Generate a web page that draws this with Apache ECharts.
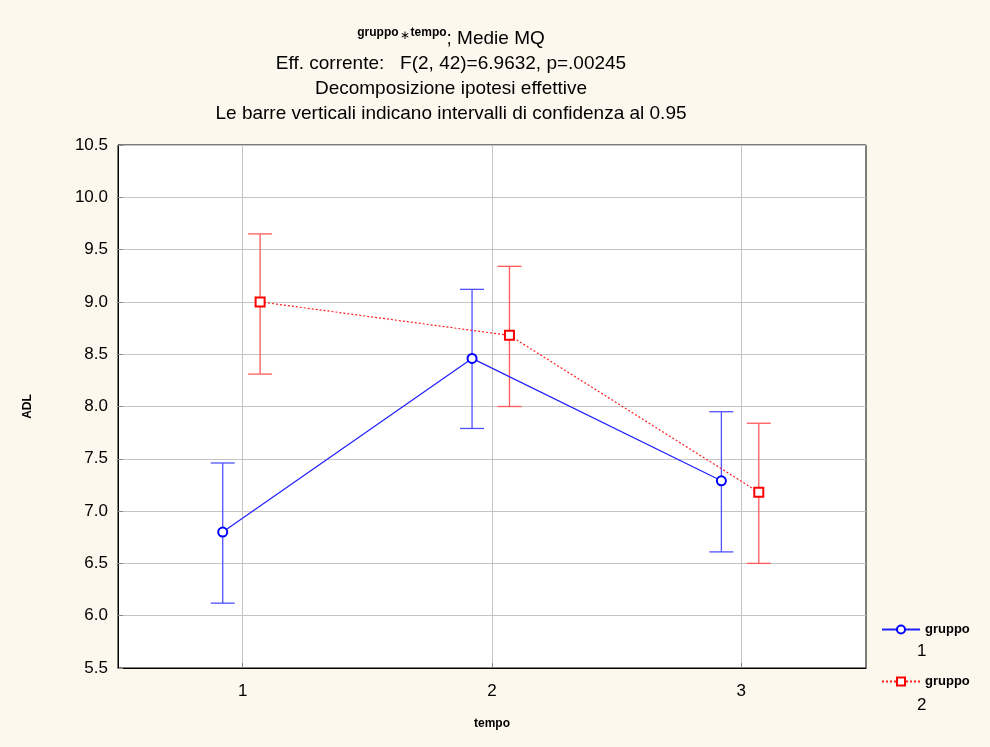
<!DOCTYPE html>
<html><head><meta charset="utf-8">
<script src="https://cdn.jsdelivr.net/npm/echarts@6/dist/echarts.min.js"></script>
<style>html,body{margin:0;padding:0;background:#fdf8ee}#c{width:990px;height:747px}</style>
</head><body><div id="c"></div>
<script>
const categories = [1, 2, 3];
const tickLabels = ['1', '2', '3'];
const group1Mean = [6.80, 8.46, 7.29];
const group1Upper = [7.46, 9.12, 7.95];
const group1Lower = [6.12, 7.79, 6.61];
const group2Mean = [9.00, 8.68, 7.18];
const group2Upper = [9.65, 9.34, 7.84];
const group2Lower = [8.31, 8.00, 6.50];
const group1Offset = -0.08;
const group2Offset = 0.07;

const chart = echarts.init(document.getElementById('c'), null, {renderer: 'canvas'});
const font = 'Liberation Sans, Arial, sans-serif';

function pts(mean, off) { return categories.map((c, i) => [c + off, mean[i]]); }
function ebData(up, lo, off) { return categories.map((c, i) => [c + off, lo[i], up[i]]); }
function ebSeries(up, lo, off, color) {
  return {
    type: 'custom', silent: true, z: 3,
    data: ebData(up, lo, off),
    encode: {x: 0, y: [1, 2]},
    renderItem: function (params, api) {
      const x = api.value(0);
      const a = api.coord([x, api.value(1)]);
      const b = api.coord([x, api.value(2)]);
      const w = 12;
      const st = {stroke: color, lineWidth: 1.3};
      return {type: 'group', children: [
        {type: 'line', shape: {x1: a[0], y1: a[1], x2: b[0], y2: b[1]}, style: st},
        {type: 'line', shape: {x1: a[0] - w, y1: a[1], x2: a[0] + w, y2: a[1]}, style: st},
        {type: 'line', shape: {x1: b[0] - w, y1: b[1], x2: b[0] + w, y2: b[1]}, style: st}
      ]};
    }
  };
}

chart.setOption({
  backgroundColor: '#fdf8ee',
  animation: false,
  title: {
    text: '{s|gruppo}{st|∗}{s|tempo}{n|; Medie MQ}\n{n|Eff. corrente:   F(2, 42)=6.9632, p=.00245}\n{n|Decomposizione ipotesi effettive}\n{n|Le barre verticali indicano intervalli di confidenza al 0.95}',
    left: 446, top: 21, textAlign: 'center',
    textStyle: {
      fontFamily: font, fontWeight: 'normal', color: '#000', lineHeight: 25,
      rich: {
        n: {fontSize: 19, fontFamily: font, color: '#000', lineHeight: 25},
        s: {fontSize: 12, fontWeight: 'bold', fontFamily: font, color: '#000', lineHeight: 25, padding: [0,0,12,0]},
        st: {fontSize: 12, fontFamily: font, color: '#000', lineHeight: 25, padding: [0,1,6,1]}
      }
    }
  },
  grid: {left: 118, right: 124, top: 145, bottom: 79, show: true, backgroundColor: '#ffffff', borderColor: '#000', borderWidth: 1},
  xAxis: {
    type: 'value', min: 0.5, max: 3.5,
    name: 'tempo', nameLocation: 'middle', nameGap: 50,
    nameTextStyle: {fontFamily: font, fontWeight: 'bold', fontSize: 12, color: '#000'},
    axisLine: {show: true, lineStyle: {color: '#000'}},
    axisTick: {show: true, inside: true, length: 5, lineStyle: {color: '#888'}, customValues: categories},
    axisLabel: {customValues: categories, formatter: v => tickLabels[categories.indexOf(v)] || '', fontFamily: font, fontSize: 17, color: '#000', margin: 15},
    splitLine: {show: true, lineStyle: {color: '#c4c4c4', width: 1}}
  },
  yAxis: {
    type: 'value', min: 5.5, max: 10.5, interval: 0.5,
    name: 'ADL', nameLocation: 'middle', nameGap: 84, nameRotate: 90,
    nameTextStyle: {fontFamily: font, fontWeight: 'bold', fontSize: 12, color: '#000'},
    axisLine: {show: true, lineStyle: {color: '#000'}},
    axisTick: {show: true, inside: true, length: 5, lineStyle: {color: '#888'}},
    axisLabel: {formatter: v => v.toFixed(1), fontFamily: font, fontSize: 17, color: '#000', margin: 10},
    splitLine: {show: true, lineStyle: {color: '#c4c4c4', width: 1}}
  },
  legend: {
    orient: 'vertical', left: 876, top: 618, itemGap: 39, itemWidth: 38, itemHeight: 10,
    textStyle: {fontFamily: font, fontWeight: 'bold', fontSize: 13, color: '#000'},
    data: ['gruppo 1', 'gruppo 2'],
    formatter: () => 'gruppo'
  },
  graphic: [
    {type: 'text', left: 917, top: 643, style: {text: '1', font: '17px ' + font, fill: '#000'}},
    {type: 'text', left: 917, top: 697, style: {text: '2', font: '17px ' + font, fill: '#000'}}
  ],
  series: [
    ebSeries(group1Upper, group1Lower, group1Offset, '#5050ff'),
    ebSeries(group2Upper, group2Lower, group2Offset, '#ff5a5a'),
    {
      name: 'gruppo 1', type: 'line', z: 4, data: pts(group1Mean, group1Offset),
      symbol: 'emptyCircle', symbolSize: 9,
      lineStyle: {color: '#2020ff', width: 1.2},
      itemStyle: {color: '#0000ff', borderColor: '#0000ff', borderWidth: 2}
    },
    {
      name: 'gruppo 2', type: 'line', z: 4, data: pts(group2Mean, group2Offset),
      symbol: 'rect', symbolSize: 9,
      lineStyle: {color: '#ff2020', width: 1.2, type: [2, 2]},
      itemStyle: {color: '#ffffff', borderColor: '#ff0000', borderWidth: 2}
    }
  ]
});
</script></body></html>
